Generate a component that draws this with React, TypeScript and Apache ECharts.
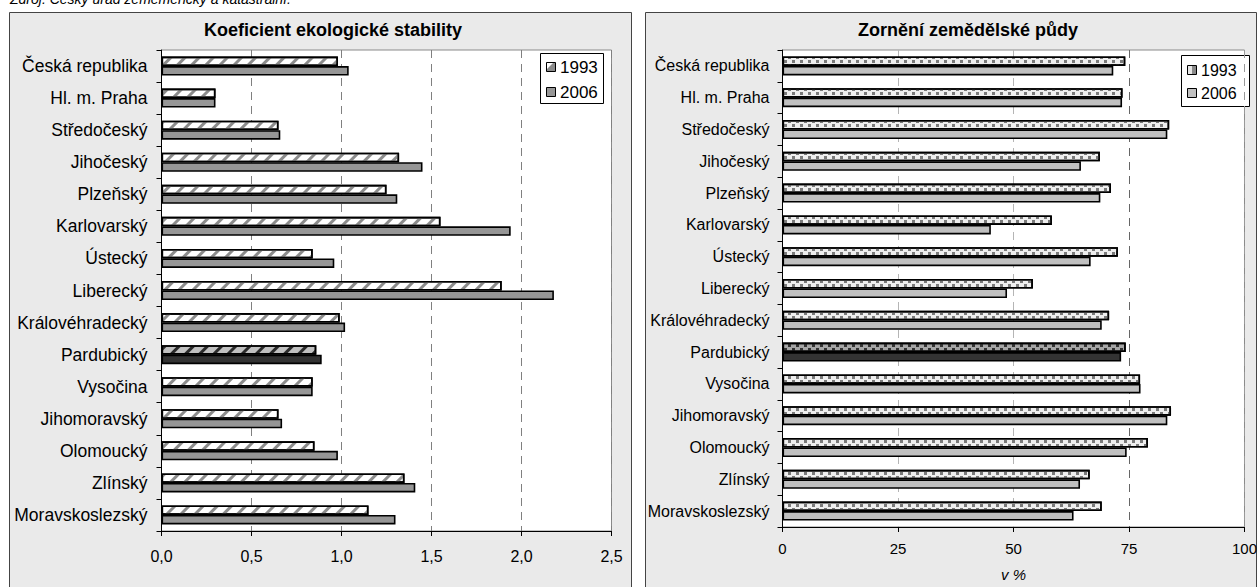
import React, { useEffect, useRef } from "react";
import * as echarts from "echarts";

const categories = [
  "Česká republika",
  "Hl. m. Praha",
  "Středočeský",
  "Jihočeský",
  "Plzeňský",
  "Karlovarský",
  "Ústecký",
  "Liberecký",
  "Královéhradecký",
  "Pardubický",
  "Vysočina",
  "Jihomoravský",
  "Olomoucký",
  "Zlínský",
  "Moravskoslezský",
];
const highlighted = "Pardubický";
const years = ["1993", "2006"];

const kes1993 = [0.98, 0.3, 0.65, 1.32, 1.25, 1.55, 0.84, 1.89, 0.99, 0.86, 0.84, 0.65, 0.85, 1.35, 1.15];
const kes2006 = [1.04, 0.3, 0.66, 1.45, 1.31, 1.94, 0.96, 2.18, 1.02, 0.89, 0.84, 0.67, 0.98, 1.41, 1.3];
const orn1993 = [74.2, 73.6, 83.7, 68.7, 71.1, 58.3, 72.6, 54.2, 70.7, 74.3, 77.4, 84.1, 79.1, 66.5, 69.1];
const orn2006 = [71.6, 73.5, 83.3, 64.6, 68.8, 45.1, 66.7, 48.6, 69.1, 73.3, 77.5, 83.3, 74.5, 64.4, 63.0];

const leftTicks = [0, 0.5, 1, 1.5, 2, 2.5];
const rightTicks = [0, 25, 50, 75, 100];

const titleLeft = "Koeficient ekologické stability";
const titleRight = "Zornění zemědělské půdy";
const sourceText = "Zdroj: Český úřad zeměměřický a katastrální.";

const FONT = "'Liberation Sans', Arial, sans-serif";

const stripeDecal = (color: string) => ({
  symbol: "rect",
  symbolSize: 1,
  color,
  dashArrayX: [1, 0],
  dashArrayY: [3, 7],
  rotation: -Math.PI / 4,
});
const dotDecal = (color: string) => ({
  symbol: "rect",
  symbolSize: 1,
  color,
  dashArrayX: [
    [3, 5],
    [0, 4, 3, 1],
  ],
  dashArrayY: [3, 1],
});

export default function App() {
  const ref = useRef<HTMLDivElement>(null);
  useEffect(() => {
    if (!ref.current) return;
    const chart = echarts.init(ref.current, undefined, { renderer: "svg" });
    const hi = categories.indexOf(highlighted);

    const mk = (vals: number[], hiStyle: any) =>
      vals.map((v, i) => (i === hi ? { value: v, itemStyle: hiStyle } : v));

    const border = { borderColor: "#000", borderWidth: 1.6 };

    const yAxisBase = (gi: number, fs: number, margin: number) => ({
      type: "category",
      gridIndex: gi,
      data: categories,
      inverse: true,
      axisLine: { show: true, lineStyle: { color: "#000", width: 1 } },
      axisTick: { show: true, length: 5, lineStyle: { color: "#000" } },
      axisLabel: { color: "#000", fontSize: fs, fontFamily: FONT, margin },
    });

    const option: any = {
      animation: false,
      graphic: {
        elements: [
          {
            type: "rect",
            z: -10,
            shape: { x: 9.5, y: 12.5, width: 622, height: 590 },
            style: { fill: "#eaeaea", stroke: "#444", lineWidth: 1 },
          },
          {
            type: "rect",
            z: -10,
            shape: { x: 645.5, y: 12.5, width: 611, height: 590 },
            style: { fill: "#eaeaea", stroke: "#444", lineWidth: 1 },
          },
          {
            type: "text",
            x: 10,
            y: -8,
            style: { text: sourceText, font: `italic 14px ${FONT}`, fill: "#000" },
          },
          {
            type: "text",
            x: 333,
            y: 30,
            style: {
              text: titleLeft,
              font: `bold 18px ${FONT}`,
              fill: "#000",
              align: "center",
              verticalAlign: "middle",
            },
          },
          {
            type: "text",
            x: 968,
            y: 30,
            style: {
              text: titleRight,
              font: `bold 18px ${FONT}`,
              fill: "#000",
              align: "center",
              verticalAlign: "middle",
            },
          },
          // left legend
          {
            type: "group",
            z: 100,
            children: [
              {
                type: "rect",
                shape: { x: 540.5, y: 53.5, width: 63, height: 50 },
                style: { fill: "#fff", stroke: "#000", lineWidth: 1 },
              },
              {
                type: "rect",
                shape: { x: 546.5, y: 62.5, width: 9, height: 9 },
                style: { fill: "#8c8c8c", stroke: "#000", lineWidth: 1 },
              },
              {
                type: "polygon",
                shape: { points: [[547, 63], [553, 63], [547, 69]] },
                style: { fill: "#fff" },
              },
              {
                type: "rect",
                shape: { x: 546.5, y: 87.5, width: 9, height: 9 },
                style: { fill: "#969696", stroke: "#000", lineWidth: 1 },
              },
              {
                type: "text",
                x: 560,
                y: 67,
                style: { text: years[0], font: `17px ${FONT}`, fill: "#000", verticalAlign: "middle" },
              },
              {
                type: "text",
                x: 560,
                y: 92,
                style: { text: years[1], font: `17px ${FONT}`, fill: "#000", verticalAlign: "middle" },
              },
            ],
          },
          // right legend
          {
            type: "group",
            z: 100,
            children: [
              {
                type: "rect",
                shape: { x: 1181.5, y: 55.5, width: 68, height: 51 },
                style: { fill: "#fff", stroke: "#000", lineWidth: 1 },
              },
              {
                type: "rect",
                shape: { x: 1187.5, y: 65.5, width: 9, height: 9 },
                style: { fill: "#e6e6e6", stroke: "#000", lineWidth: 1 },
              },
              {
                type: "rect",
                shape: { x: 1192, y: 66, width: 4, height: 8 },
                style: { fill: "#8a8a8a" },
              },
              {
                type: "rect",
                shape: { x: 1187.5, y: 88.5, width: 9, height: 9 },
                style: { fill: "#c0c0c0", stroke: "#000", lineWidth: 1 },
              },
              {
                type: "text",
                x: 1201,
                y: 70,
                style: { text: years[0], font: `16px ${FONT}`, fill: "#000", verticalAlign: "middle" },
              },
              {
                type: "text",
                x: 1201,
                y: 93,
                style: { text: years[1], font: `16px ${FONT}`, fill: "#000", verticalAlign: "middle" },
              },
            ],
          },
        ],
      },
      grid: [
        {
          left: 161.5,
          right: 1260 - 611.5,
          top: 50,
          bottom: 587 - 531,
          show: true,
          backgroundColor: "#fff",
          borderColor: "#8a8a8a",
          borderWidth: 1,
        },
        {
          left: 782.5,
          right: 1260 - 1253.5,
          top: 50,
          bottom: 587 - 535,
          show: true,
          backgroundColor: "#fff",
          borderColor: "#8a8a8a",
          borderWidth: 1,
        },
      ],
      xAxis: [
        {
          type: "value",
          gridIndex: 0,
          min: leftTicks[0],
          max: leftTicks[leftTicks.length - 1],
          interval: 0.5,
          axisLine: { show: true, lineStyle: { color: "#000" } },
          axisTick: { show: true, length: 5, lineStyle: { color: "#000" } },
          axisLabel: {
            color: "#000",
            fontSize: 16,
            fontFamily: FONT,
            margin: 17,
            formatter: (v: number) => v.toFixed(1).replace(".", ","),
          },
          splitLine: { show: true, lineStyle: { color: "#808080", type: [8, 6], width: 1 } },
        },
        {
          type: "value",
          gridIndex: 1,
          min: rightTicks[0],
          max: rightTicks[rightTicks.length - 1],
          interval: 25,
          name: "v %",
          nameLocation: "middle",
          nameGap: 40,
          nameTextStyle: { color: "#000", fontSize: 15, fontStyle: "italic", fontFamily: FONT },
          axisLine: { show: true, lineStyle: { color: "#000" } },
          axisTick: { show: true, length: 5, lineStyle: { color: "#000" } },
          axisLabel: { color: "#000", fontSize: 15, fontFamily: FONT, margin: 14 },
          splitLine: {
            show: true,
            lineStyle: { color: ["#999", "#b5b5b5", "#b5b5b5", "#666", "#999"], type: [8, 6], width: 1 },
          },
        },
      ],
      yAxis: [yAxisBase(0, 17.5, 14), yAxisBase(1, 16, 13)],
      series: [
        {
          name: years[0],
          type: "bar",
          xAxisIndex: 0,
          yAxisIndex: 0,
          barWidth: 9.5,
          barGap: "0%",
          itemStyle: { color: "#ffffff", ...border, decal: stripeDecal("#8c8c8c") },
          data: mk(kes1993, { color: "#c0c0c0", ...border, decal: stripeDecal("#2a2a2a") }),
        },
        {
          name: years[1],
          type: "bar",
          xAxisIndex: 0,
          yAxisIndex: 0,
          barWidth: 9.5,
          barGap: "0%",
          itemStyle: { color: "#969696", ...border },
          data: mk(kes2006, { color: "#333333", ...border }),
        },
        {
          name: years[0],
          type: "bar",
          xAxisIndex: 1,
          yAxisIndex: 1,
          barWidth: 9.5,
          barGap: "0%",
          itemStyle: { color: "#eeeeee", ...border, decal: dotDecal("#7a7a7a") },
          data: mk(orn1993, { color: "#a6a6a6", ...border, decal: dotDecal("#333") }),
        },
        {
          name: years[1],
          type: "bar",
          xAxisIndex: 1,
          yAxisIndex: 1,
          barWidth: 9.5,
          barGap: "0%",
          itemStyle: { color: "#c0c0c0", ...border },
          data: mk(orn2006, { color: "#333333", ...border }),
        },
      ],
    };
    chart.setOption(option);
    return () => chart.dispose();
  }, []);

  return (
    <div
      ref={ref}
      style={{ position: "fixed", left: 0, top: 0, width: 1260, height: 587, background: "#fff" }}
    />
  );
}
